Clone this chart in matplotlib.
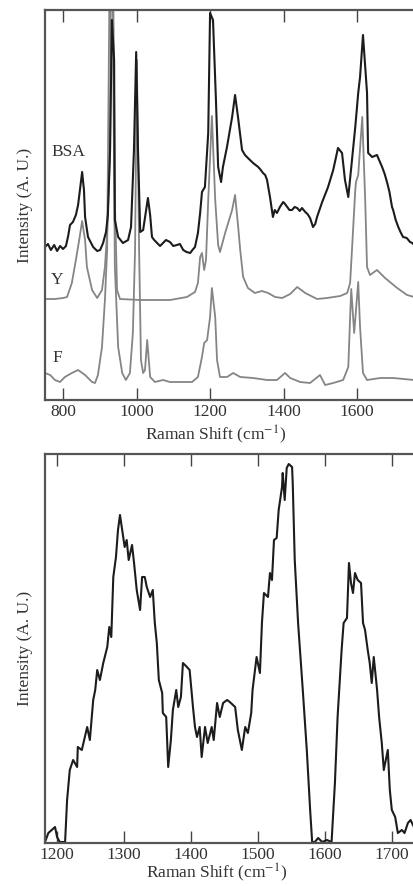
import matplotlib
matplotlib.use("Agg")
import matplotlib.pyplot as plt

plt.rcParams['font.family'] = ['Liberation Serif', 'DejaVu Serif']
plt.rcParams['mathtext.fontset'] = 'stix'

# ---------------- Top panel data (Raman shift cm^-1, intensity a.u.) ----------------
bsa_x = [751, 759, 767, 776, 784, 792, 800, 808, 814, 819, 827, 835, 841, 846, 852, 857, 860, 868,
         882, 893, 901, 909, 917, 922, 928, 933, 939, 941, 950, 963, 977, 985, 993, 999, 1004, 1010,
         1018, 1026, 1031, 1037, 1042, 1048, 1056, 1064, 1072, 1080, 1091, 1100, 1110, 1118, 1127,
         1136, 1146, 1152, 1159, 1167, 1173, 1178, 1186, 1195, 1200, 1208, 1216, 1222, 1230, 1235,
         1246, 1260, 1268, 1276, 1287, 1295, 1303, 1317, 1331, 1338, 1344, 1350, 1355, 1363, 1371,
         1376, 1382, 1390, 1399, 1404, 1410, 1416, 1423, 1430, 1437, 1444, 1450, 1459, 1465, 1472,
         1480, 1486, 1491, 1505, 1521, 1535, 1548, 1559, 1567, 1576, 1586, 1595, 1603, 1608, 1616,
         1627, 1630, 1641, 1654, 1662, 1668, 1675, 1682, 1688, 1695, 1698, 1705, 1712, 1718, 1725,
         1735, 1744, 1750, 1755]
bsa_y = [153, 156, 150, 155, 149, 154, 151, 154, 164, 175, 178, 185, 195, 210, 228, 210, 183, 163,
         153, 149, 150, 157, 168, 185, 250, 380, 340, 180, 163, 157, 160, 173, 250, 348, 250, 168,
         170, 190, 202, 185, 163, 160, 157, 154, 157, 160, 158, 154, 155, 156, 150,
         148, 147, 150, 153, 167, 187, 208, 213, 267, 387, 380, 300, 233, 218, 233,
         253, 283, 305, 283, 250, 245, 242, 237, 233, 230, 227, 225, 220, 203, 183,
         190, 187, 193, 198, 196, 193, 190, 190, 193, 192, 189, 192, 188, 186, 182,
         173, 176, 183, 198, 213, 230, 252, 247, 220, 203, 240, 273, 307, 323, 365,
         307, 247, 243, 245, 238, 233, 226, 217, 208, 193, 190, 180, 173, 168, 163,
         162, 158, 157, 155]

tyr_x = [751, 778, 800, 811, 824, 835, 844, 852, 860, 865, 879, 893, 906, 914, 920, 928, 933, 941,
         947, 955, 1010, 1091, 1137, 1159, 1167, 1173, 1178, 1184, 1189, 1195, 1205, 1214, 1222,
         1227, 1241, 1260, 1268, 1276, 1282, 1290, 1303, 1322, 1341, 1358, 1377, 1396, 1418, 1437,
         1459, 1491, 1518, 1554, 1573, 1581, 1586, 1595, 1597, 1603, 1614, 1622, 1627, 1635, 1654,
         1676, 1709, 1736, 1755]
tyr_y = [101, 101, 102, 103, 117, 140, 160, 179, 160, 133, 110, 102, 110, 133, 167, 250, 600, 200,
         110, 101, 100, 100, 103, 108, 117, 143, 147, 130, 140, 200, 284, 200, 155,
         148, 167, 190, 205, 175, 150, 123, 112, 107, 109, 107, 103, 102, 106, 113,
         107, 101, 102, 104, 107, 117, 150, 210, 218, 225, 283, 200, 133, 125, 130,
         122, 112, 105, 103]

phe_x = [751, 765, 778, 792, 805, 824, 841, 860, 879, 887, 895, 906, 914, 920, 931, 941, 950, 961,
         971, 982, 990, 996, 1001, 1007, 1012, 1018, 1023, 1029, 1037, 1050, 1072, 1091, 1118,
         1151, 1167, 1178, 1184, 1192, 1200, 1205, 1214, 1219, 1227, 1246, 1263, 1282, 1317, 1355,
         1382, 1404, 1418, 1445, 1472, 1499, 1513, 1535, 1562, 1576, 1581, 1584, 1592, 1597, 1603,
         1608, 1616, 1627, 1663, 1698, 1755]
phe_y = [27, 25, 20, 18, 23, 27, 30, 25, 18, 17, 25, 53, 100, 150, 600, 133, 53, 27,
         20, 27, 67, 150, 340, 150, 40, 27, 30, 60, 23, 18, 20, 18, 18,
         18, 23, 43, 57, 60, 83, 112, 83, 40, 23, 23, 27, 23, 22, 20,
         20, 27, 22, 18, 17, 25, 15, 17, 20, 33, 83, 111, 67, 90, 118,
         73, 27, 20, 22, 22, 20]

top_ticks = [800, 1000, 1200, 1400, 1600]

# ---------------- Bottom panel data ----------------
amide_x = [1182, 1187, 1192, 1197, 1200, 1204, 1212, 1215, 1219, 1224, 1230, 1231, 1237, 1245,
           1249, 1254, 1257, 1260, 1264, 1269, 1275, 1278, 1281, 1284, 1288, 1291, 1294, 1298,
           1301, 1304, 1307, 1312, 1315, 1319, 1324, 1327, 1331, 1334, 1339, 1343, 1346, 1349,
           1352, 1357, 1358, 1363, 1366, 1370, 1373, 1378, 1381, 1385, 1388, 1394, 1398, 1403,
           1406, 1409, 1413, 1416, 1421, 1425, 1431, 1434, 1439, 1443, 1448, 1454, 1458, 1466,
           1470, 1476, 1481, 1485, 1490, 1492, 1498, 1503, 1506, 1509, 1515, 1518, 1521, 1524,
           1528, 1531, 1536, 1537, 1540, 1543, 1546, 1551, 1552, 1555, 1560, 1567, 1573, 1578,
           1581, 1585, 1590, 1596, 1603, 1610, 1615, 1619, 1625, 1628, 1633, 1636, 1639, 1642,
           1645, 1649, 1654, 1657, 1660, 1664, 1667, 1670, 1673, 1678, 1681, 1685, 1688, 1694,
           1697, 1700, 1705, 1709, 1715, 1719, 1724, 1728, 1733]
amide_y = [1, 10, 13, 16, 6, 1, 1, 43, 73, 83, 76, 96, 93, 116, 103, 143, 153, 173, 163, 180,
           196, 216, 206, 266, 286, 313, 328, 310, 296, 303, 283, 298, 280, 253, 233, 266,
           266, 256, 246, 253, 220, 200, 163, 150, 130, 126, 76, 103, 133, 153, 136, 146, 180,
           176, 173, 136, 116, 106, 116, 86, 116, 100, 116, 103, 140, 126, 140, 143, 141, 136,
           113, 93, 116, 110, 130, 153, 186, 170, 220, 250, 246, 270, 263, 303, 305, 333, 356,
           370, 343, 375, 379, 376, 360, 283, 220, 153, 93, 33, 1, 1, 5, 1, 3, 1, 60, 126, 193,
           220, 225, 280, 260, 250, 270, 263, 260, 220, 213, 193, 180, 160, 186, 153, 126, 100,
           73, 93, 53, 33, 26, 10, 13, 10, 20, 23, 16]

bottom_ticks = [1200, 1300, 1400, 1500, 1600, 1700]

# ---------------- Figure ----------------
W, H = 414, 886
fig = plt.figure(figsize=(W / 100, H / 100), dpi=100)

ax1 = fig.add_axes([45 / W, (H - 400) / H, 386 / W, 390 / H])
ax2 = fig.add_axes([45 / W, (H - 843) / H, 387 / W, 389 / H])

gray = '#858585'
black = '#1c1c1c'
txt = '#333333'
fs = 12.5

ax1.plot(phe_x, phe_y, color=gray, lw=1.3)
ax1.plot(tyr_x, tyr_y, color=gray, lw=1.3)
ax1.plot(bsa_x, bsa_y, color=black, lw=1.5)
ax1.set_xlim(751, 1801)
ax1.set_ylim(0, 390)
ax1.set_xticks(top_ticks)
ax1.text(814, 248, 'BSA', fontsize=fs, color=txt, ha='center', va='center')
ax1.text(784, 120, 'Y', fontsize=fs, color=txt, ha='center', va='center')
ax1.text(784, 42, 'F', fontsize=fs, color=txt, ha='center', va='center')

ax2.plot(amide_x, amide_y, color=black, lw=1.5)
ax2.set_xlim(1182, 1760)
ax2.set_ylim(0, 389)
ax2.set_xticks(bottom_ticks)

for ax in (ax1, ax2):
    ax.set_yticks([])
    ax.tick_params(axis='x', direction='in', top=True, bottom=True, length=8.5, width=1.0,
                   labelsize=fs, pad=3, colors='#444444', labelcolor=txt)
    for s in ax.spines.values():
        s.set_linewidth(1.6)
        s.set_color('#555555')
    ax.set_xlabel('Raman Shift (cm$^{-1}$)', fontsize=fs, color=txt)
    ax.set_ylabel('Intensity (A. U.)', fontsize=fs, color=txt)
    ax.xaxis.label.set_va('bottom')
    ax.yaxis.set_label_coords(-0.031, 0.5)

# xlabel bottoms (pixel rows 446 and 884 from the top of the image)
ax1.xaxis.set_label_coords(0.443, (400 - 446) / 390)
ax2.xaxis.set_label_coords(0.443, (843 - 884) / 389)

fig.savefig('out.png', dpi=100)
